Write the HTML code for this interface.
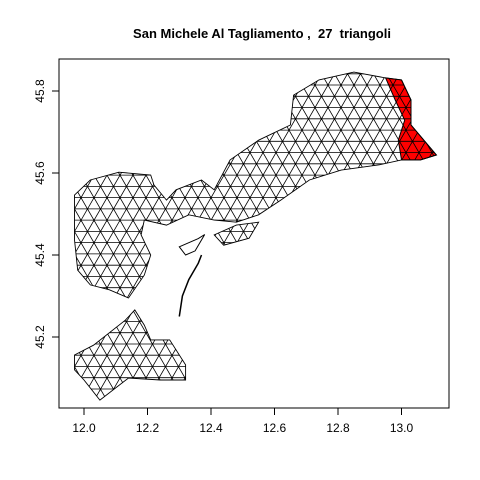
<!DOCTYPE html>
<html><head><meta charset="utf-8"><style>
html,body{margin:0;padding:0;background:#fff;}
svg{display:block;font-family:"Liberation Sans",Arial,sans-serif;}
</style></head><body>
<svg id="chart" width="480" height="480" viewBox="0 0 480 480">
<rect width="480" height="480" fill="#fff"/>
<text x="262" y="38" text-anchor="middle" font-size="13" font-weight="bold" style="white-space:pre">San Michele Al Tagliamento ,  27  triangoli</text>
<defs><clipPath id="landclip"></clipPath></defs>
<g id="red"></g>
<g id="mesh" clip-path="url(#landclip)"></g>
<g id="outlines"></g>
<rect x="59" y="59" width="390" height="349" fill="none" stroke="#000"/>
<g id="axes"></g>
</svg>
<script>
const xTicks=[12.0,12.2,12.4,12.6,12.8,13.0];
const yTicks=[45.2,45.4,45.6,45.8];
const xLabels=["12.0","12.2","12.4","12.6","12.8","13.0"];
const yLabels=["45.2","45.4","45.6","45.8"];
const mainRegion=[[11.97,45.546],[12.02,45.583],[12.11,45.602],[12.21,45.595],[12.22,45.571],[12.26,45.534],[12.29,45.559],[12.37,45.583],[12.41,45.559],[12.46,45.632],[12.55,45.68],[12.65,45.717],[12.66,45.79],[12.74,45.827],[12.85,45.846],[12.95,45.832],[13.0,45.827],[13.03,45.778],[13.03,45.717],[13.11,45.644],[13.06,45.632],[13.0,45.632],[12.93,45.62],[12.81,45.607],[12.71,45.583],[12.62,45.534],[12.55,45.498],[12.48,45.48],[12.41,45.485],[12.33,45.498],[12.26,45.473],[12.19,45.485],[12.18,45.449],[12.21,45.4],[12.19,45.351],[12.14,45.295],[12.08,45.315],[12.02,45.327],[11.98,45.363],[11.97,45.437]];
const islandRegion=[[12.41,45.449],[12.48,45.473],[12.55,45.48],[12.52,45.441],[12.44,45.424]];
const southRegion=[[11.97,45.156],[12.03,45.18],[12.13,45.241],[12.16,45.266],[12.19,45.229],[12.21,45.193],[12.27,45.193],[12.32,45.132],[12.32,45.095],[12.24,45.095],[12.14,45.1],[12.05,45.046],[12.0,45.095],[11.97,45.12]];
const redRegion=[[12.95,45.832],[13.0,45.827],[13.03,45.778],[13.03,45.717],[13.11,45.644],[13.06,45.632],[13.0,45.632],[12.99,45.68],[13.01,45.729],[12.98,45.778]];
const spitLine=[[12.30,45.25],[12.31,45.30],[12.33,45.34],[12.36,45.38],[12.37,45.40]];
const lagoonIsle=[[12.30,45.42],[12.33,45.43],[12.36,45.44],[12.38,45.45],[12.35,45.41],[12.32,45.40]];
const xs=v=>84+(v-12.0)*317.5;
const ys=v=>91+(45.8-v)*410;
const NS="http://www.w3.org/2000/svg";
function mk(t,a,p){const e=document.createElementNS(NS,t);for(const k in a)e.setAttribute(k,a[k]);p.appendChild(e);return e;}
function pts(arr){return arr.map(p=>xs(p[0]).toFixed(1)+","+ys(p[1]).toFixed(1)).join(" ");}
const clip=document.getElementById('landclip');
[mainRegion,islandRegion,southRegion].forEach(r=>mk('polygon',{points:pts(r)},clip));
const red=mk('polygon',{points:pts(redRegion),fill:'#ff0000',stroke:'#000'},document.getElementById('red'));


const mesh=document.getElementById('mesh');
const sp=13,h=sp*0.866;
let d="";
for(let y=40;y<440;y+=h){d+=`M40 ${y.toFixed(1)}L460 ${y.toFixed(1)}`;}
for(let c=-400;c<600;c+=sp){d+=`M${c} 40L${c+400*0.577} 440`;d+=`M${c} 40L${c-400*0.577} 440`;}
const mp=mk('path',{d:d,stroke:'#000','stroke-width':0.8,fill:'none'},mesh);


const ol=document.getElementById('outlines');
[mainRegion,islandRegion,southRegion].forEach((r,i)=>{
const e=mk('polygon',{points:pts(r),fill:'none',stroke:'#000','stroke-width':0.9},ol);


});
const s=mk('polyline',{points:pts(spitLine),fill:'none',stroke:'#000','stroke-width':1.5},ol);


const li=mk('polygon',{points:pts(lagoonIsle),fill:'none',stroke:'#000'},ol);


const ax=document.getElementById('axes');
mk('line',{x1:xs(xTicks[0]),x2:xs(xTicks[xTicks.length-1]),y1:408,y2:408,stroke:'#000'},ax);
xTicks.forEach((v,i)=>{mk('line',{x1:xs(v),x2:xs(v),y1:408,y2:415,stroke:'#000'},ax);
const t=mk('text',{x:xs(v),y:432,'text-anchor':'middle','font-size':12},ax);t.textContent=xLabels[i];

});
yTicks.forEach((v,i)=>{mk('line',{x1:52,x2:59,y1:ys(v),y2:ys(v),stroke:'#000'},ax);
const t=mk('text',{x:44,y:ys(v),'text-anchor':'middle','font-size':12,transform:`rotate(-90 44 ${ys(v)})`},ax);t.textContent=yLabels[i];

});
</script>
</body></html>
